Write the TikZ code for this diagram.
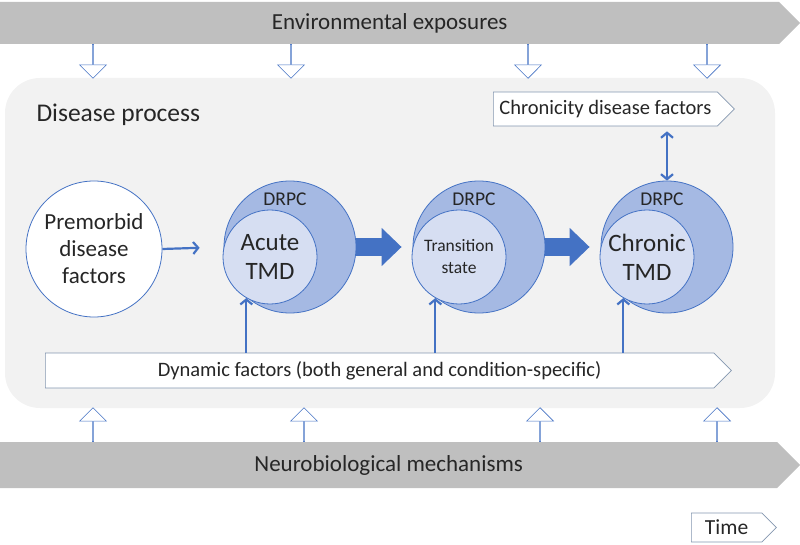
\documentclass[tikz,border=0pt]{standalone}
\usepackage{fontspec}
\setmainfont{Carlito}
\usetikzlibrary{arrows.meta,shapes.arrows,shapes.symbols,positioning}

\definecolor{tmdblue}{HTML}{4472C4}
\definecolor{drpcfill}{HTML}{A5B9E3}
\definecolor{tmdfill}{HTML}{D6DEF2}
\definecolor{bandgray}{HTML}{BFBFBF}
\definecolor{boxline}{HTML}{8497B0}
\definecolor{txt}{HTML}{262626}

\begin{document}
\begin{tikzpicture}[
    x=1pt, y=-1pt,
    every node/.style={text=txt},
    band/.style={signal, signal to=east, anchor=west, fill=bandgray, draw=none, minimum width=800pt, inner sep=0pt, font=\fontsize{23}{25}\selectfont},
    factorbox/.style={signal, signal to=east, anchor=west, fill=white, draw=boxline, line width=0.7pt, inner sep=0pt},
    outer/.style={circle, draw=tmdblue, fill=drpcfill, line width=0.8pt, minimum size=132pt, inner sep=0pt},
    inner/.style={circle, draw=tmdblue, fill=tmdfill, line width=0.8pt, minimum size=94pt, inner sep=0pt, align=center},
    drpc/.style={font=\fontsize{19.5}{21}\selectfont},
    hollow/.style={single arrow, draw=tmdblue, fill=white, line width=0.6pt, minimum height=34pt, minimum width=27pt, single arrow head extend=6pt, inner sep=0pt},
    link/.style={draw=tmdblue, line width=2.2pt, -{Straight Barb[length=5pt,width=12pt]}},
    bigarrow/.style={draw=tmdblue, line width=18pt, -{Triangle[length=20pt,width=37pt]}, shorten >=11pt}
]
  \useasboundingbox (0,0) rectangle (800,545);

  % grey process area
  \node[fill=gray!10, rounded corners=35pt, minimum width=770pt, minimum height=330pt] (proc) at (390,243) {};
  \node[anchor=west, font=\fontsize{25.5}{28}\selectfont] (title) at (33,115) {Disease process};

  % bands
  \node[band, minimum height=42pt] (env) at (0,23) {Environmental exposures};
  \node[band, minimum height=46pt] (neuro) at (0,465) {Neurobiological mechanisms};

  % hollow arrows from and to the bands
  \foreach \x [count=\i] in {93,291,528,707}
    \node[hollow, rotate=-90] (down\i) at (\x,61) {};
  \foreach \x [count=\i] in {93,304,540,717}
    \node[hollow, rotate=90] (up\i) at (\x,425) {};

  % factor boxes
  \node[factorbox, minimum width=241pt, minimum height=34pt, font=\fontsize{20.5}{22}\selectfont] (chron) at (493,109) {Chronicity disease factors};
  \node[factorbox, minimum width=686pt, minimum height=35pt, font=\fontsize{20.5}{22}\selectfont] (dyn) at (45,370.5) {Dynamic factors (both general and condition-specific)};
  \node[factorbox, minimum width=85pt, minimum height=29pt, font=\fontsize{21.5}{23}\selectfont] (time) at (691,527.5) {Time};

  % circles
  \node[circle, draw=tmdblue, fill=white, line width=0.8pt, minimum size=136pt, align=center, font=\fontsize{23}{27}\selectfont] (pre) at (94,249) {Premorbid\\disease\\factors};

  \node[outer] (acuteOut) at (290,247) {};
  \node[inner, font=\fontsize{25}{29}\selectfont] (acuteIn) at (270,257) {Acute\\TMD};
  \node[drpc] at ([xshift=-5pt,yshift=-19pt]acuteOut.north) {DRPC};

  \node[outer] (transOut) at (479,247) {};
  \node[inner, font=\fontsize{17.5}{22}\selectfont] (transIn) at (459,257) {Transition\\state};
  \node[drpc] at ([xshift=-5pt,yshift=-19pt]transOut.north) {DRPC};

  \node[outer] (chronOut) at (667,247) {};
  \node[inner, font=\fontsize{25}{29}\selectfont] (chronIn) at (647,257) {Chronic\\TMD};
  \node[drpc] at ([xshift=-5pt,yshift=-19pt]chronOut.north) {DRPC};

  % connectors
  \draw[link, shorten >=24pt] (pre.east) -- (acuteOut.west);
  \draw[bigarrow] (acuteOut.east) -- (transOut.west);
  \draw[bigarrow] (transOut.east) -- (chronOut.west);
  \draw[link, {Straight Barb[length=5pt,width=12pt]}-{Straight Barb[length=5pt,width=12pt]}, shorten <=5pt] (chron.south -| chronOut.north) -- (chronOut.north);
  \draw[link] (acuteIn.-120 |- dyn.north) -- (acuteIn.-120);
  \draw[link] (transIn.-120 |- dyn.north) -- (transIn.-120);
  \draw[link] (chronIn.-120 |- dyn.north) -- (chronIn.-120);
\end{tikzpicture}
\end{document}
